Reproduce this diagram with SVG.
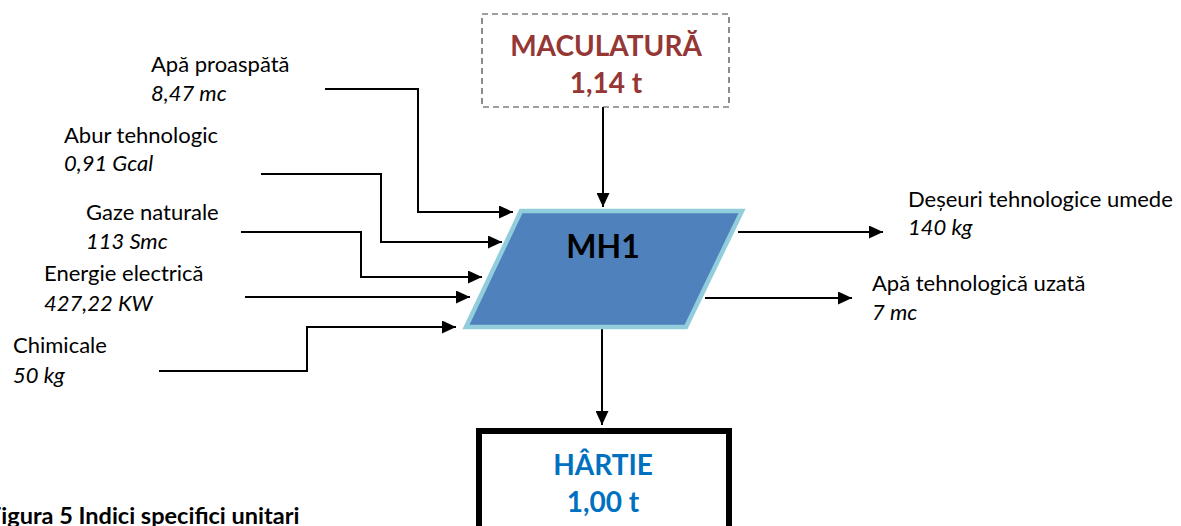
<svg xmlns="http://www.w3.org/2000/svg" width="1181" height="526" viewBox="0 0 1181 526">
  <style>
    .lbl { font-family: Lato, "Liberation Sans", sans-serif; font-size: 22px; fill: #000; }
    .val { font-family: Lato, "Liberation Sans", sans-serif; font-size: 22px; font-style: italic; fill: #000; }
    .big { font-family: Lato, "Liberation Sans", sans-serif; font-size: 28px; font-weight: bold; text-anchor: middle; }
    .flow { fill: none; stroke: #000; stroke-width: 2; marker-end: url(#arrow); }
  </style>
  <defs>
    <marker id="arrow" markerUnits="userSpaceOnUse" markerWidth="15" markerHeight="13" refX="14" refY="6.5" orient="auto">
      <path d="M0,0 L14,6.5 L0,13 z" fill="#000"/>
    </marker>
  </defs>
  <rect width="1181" height="526" fill="#fff"/>

  <!-- connectors -->
  <g id="connectors">
    <polyline class="flow" points="325,89 418,89 418,212 513,212"/>
    <polyline class="flow" points="261,174 381,174 381,242 502,242"/>
    <polyline class="flow" points="241,232 361,232 361,277 482,277"/>
    <polyline class="flow" points="245,297 470,297"/>
    <polyline class="flow" points="159,371 307,371 307,327 456,327"/>
    <polyline class="flow" points="603,107 603,207"/>
    <polyline class="flow" points="602,329 602,425"/>
    <polyline class="flow" points="738,232 883,232"/>
    <polyline class="flow" points="705,298 852,298"/>
  </g>

  <!-- input material box -->
  <g id="maculatura">
    <rect x="482" y="14" width="247" height="93" fill="#fff" stroke="#404040" stroke-width="1.2" stroke-dasharray="6,4"/>
    <text class="big" x="606" y="56" fill="#953735">MACULATURĂ</text>
    <text class="big" x="606" y="93" fill="#953735">1,14 t</text>
  </g>

  <!-- process -->
  <g id="mh1">
    <polygon points="521,211 742,211 686,327 466,327" fill="#4F81BD" stroke="#92CDDC" stroke-width="4.5"/>
    <text x="603" y="258" font-family="Lato, 'Liberation Sans', sans-serif" font-size="32" font-weight="bold" text-anchor="middle" fill="#000">MH1</text>
  </g>

  <!-- product box -->
  <g id="hartie">
    <rect x="479" y="431" width="250" height="110" fill="#fff" stroke="#000" stroke-width="6"/>
    <text class="big" x="603" y="475" fill="#0070C0">HÂRTIE</text>
    <text class="big" x="603" y="512" fill="#0070C0">1,00 t</text>
  </g>

  <!-- inputs -->
  <g id="apa-proaspata">
    <text class="lbl" x="151" y="72">Apă proaspătă</text>
    <text class="val" x="151" y="101">8,47 mc</text>
  </g>
  <g id="abur">
    <text class="lbl" x="64" y="143">Abur tehnologic</text>
    <text class="val" x="64" y="171">0,91 Gcal</text>
  </g>
  <g id="gaze">
    <text class="lbl" x="86" y="220">Gaze naturale</text>
    <text class="val" x="86" y="249">113 Smc</text>
  </g>
  <g id="energie">
    <text class="lbl" x="44" y="281">Energie electrică</text>
    <text class="val" x="44" y="311">427,22 KW</text>
  </g>
  <g id="chimicale">
    <text class="lbl" x="13" y="353">Chimicale</text>
    <text class="val" x="13" y="383">50 kg</text>
  </g>

  <!-- outputs -->
  <g id="deseuri">
    <text class="lbl" x="908" y="207">Deșeuri tehnologice umede</text>
    <text class="val" x="908" y="235">140 kg</text>
  </g>
  <g id="apa-uzata">
    <text class="lbl" x="872" y="291">Apă tehnologică uzată</text>
    <text class="val" x="872" y="320">7 mc</text>
  </g>

  <!-- caption -->
  <text x="-12" y="524" font-family="Lato, 'Liberation Sans', sans-serif" font-size="23.5" font-weight="bold" fill="#000">Figura 5 Indici specifici unitari</text>
</svg>
